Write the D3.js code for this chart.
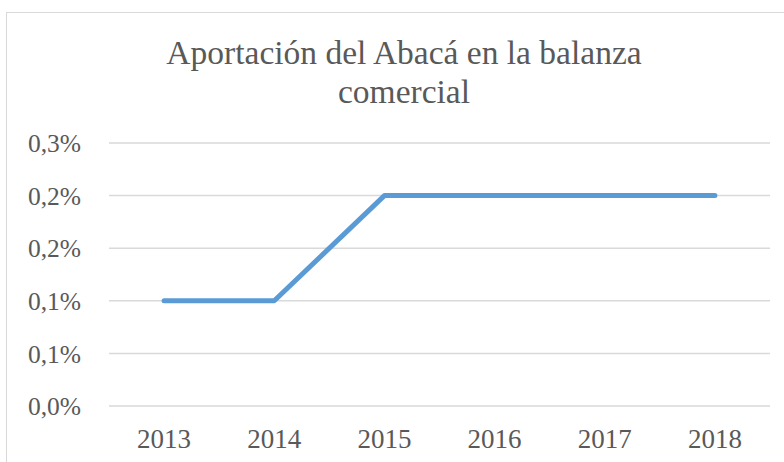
<!DOCTYPE html>
<html>
<head>
<meta charset="utf-8">
<script src="https://cdn.jsdelivr.net/npm/d3@7"></script>
<style>
  html, body { margin: 0; padding: 0; background: #fff; }
  svg { display: block; }
  svg text { font-family: 'Liberation Serif', 'Times New Roman', serif; }
</style>
</head>
<body>
<div id="chart"></div>
<script>
// data
const years = ['2013', '2014', '2015', '2016', '2017', '2018'];
const values = [0.001, 0.001, 0.002, 0.002, 0.002, 0.002];
const yTicks = [0, 0.0005, 0.001, 0.0015, 0.002, 0.0025];
const yTickLabels = ['0,0%', '0,1%', '0,1%', '0,2%', '0,2%', '0,3%'];
const titleLines = ['Aportación del Abacá en la balanza', 'comercial'];

const W = 784, H = 462;
const plot = { left: 109, right: 770, top: 143, bottom: 406 };
const textColor = '#595959';
const font = "'Liberation Serif', 'Times New Roman', serif";

const svg = d3.select('#chart').append('svg')
  .attr('width', W)
  .attr('height', H);

// chart area border (runs off the right / bottom edge)
svg.append('rect')
  .attr('x', 6.5).attr('y', 12.5)
  .attr('width', 900).attr('height', 600)
  .attr('fill', '#fff')
  .attr('stroke', '#d9d9d9')
  .attr('stroke-width', 1);

svg.append('text')
  .attr('x', 404)
  .attr('text-anchor', 'middle')
  .style('font-family', font)
  .style('font-size', '33.5px')
  .attr('fill', textColor)
  .selectAll('tspan')
  .data(titleLines)
  .join('tspan')
    .attr('x', 404)
    .attr('y', (d, i) => 64 + i * 39)
    .text(d => d);

const x = d3.scaleBand()
  .domain(years)
  .range([plot.left, plot.right]);

const y = d3.scaleLinear()
  .domain([0, 0.0025])
  .range([plot.bottom, plot.top]);

// gridlines
svg.append('g')
  .selectAll('line')
  .data(yTicks)
  .join('line')
    .attr('x1', plot.left)
    .attr('x2', plot.right)
    .attr('y1', d => y(d))
    .attr('y2', d => y(d))
    .attr('stroke', '#d9d9d9')
    .attr('stroke-width', 1.5);

// y axis labels
const yAxis = d3.axisLeft(y)
  .tickValues(yTicks)
  .tickFormat((d, i) => yTickLabels[i])
  .tickSize(0)
  .tickPadding(0);

const yG = svg.append('g')
  .attr('transform', 'translate(81,0)')
  .call(yAxis);
yG.attr('font-family', null).attr('font-size', null);
yG.select('.domain').remove();
yG.selectAll('text')
  .style('font-family', font)
  .style('font-size', '25.5px')
  .attr('fill', textColor)
  .attr('dy', '0.34em');

// x axis labels
const xAxis = d3.axisBottom(x).tickSize(0).tickPadding(0);
const xG = svg.append('g')
  .attr('transform', `translate(0,${plot.bottom})`)
  .call(xAxis);
xG.attr('font-family', null).attr('font-size', null);
xG.select('.domain').remove();
xG.selectAll('text')
  .style('font-family', font)
  .style('font-size', '27px')
  .attr('fill', textColor)
  .attr('dy', null)
  .attr('y', 42);

const line = d3.line()
  .x((d, i) => x(years[i]) + x.bandwidth() / 2)
  .y(d => y(d));

svg.append('path')
  .datum(values)
  .attr('d', line)
  .attr('fill', 'none')
  .attr('stroke', '#5b9bd5')
  .attr('stroke-width', 5)
  .attr('stroke-linecap', 'round')
  .attr('stroke-linejoin', 'round');
</script>
</body>
</html>
